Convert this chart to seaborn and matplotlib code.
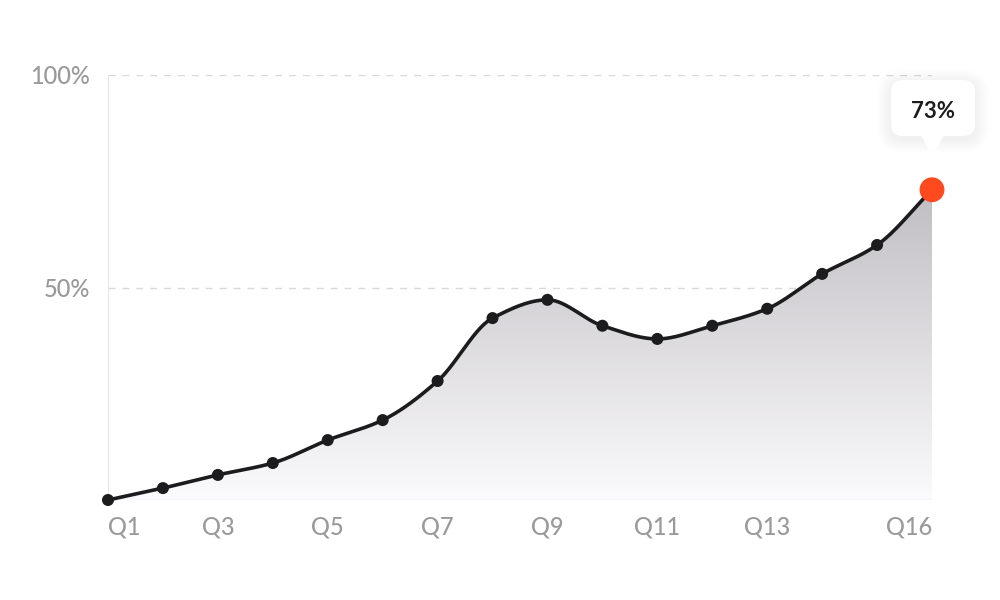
import numpy as np
import pandas as pd
import matplotlib
matplotlib.use("Agg")
import matplotlib.pyplot as plt
import seaborn as sns
from matplotlib.patches import FancyBboxPatch, Polygon
from matplotlib.colors import LinearSegmentedColormap

quarters = [f"Q{i}" for i in range(1, 17)]
values = [0, 2.8, 5.9, 8.7, 14.1, 18.8, 28.0, 42.8, 47.1, 41.0, 37.9, 41.0, 45.0, 53.2, 60.0, 73.0]
tick_quarters = ["Q1", "Q3", "Q5", "Q7", "Q9", "Q11", "Q13", "Q16"]
y_ticks = [50, 100]
y_tick_labels = ["50%", "100%"]
highlight_label = "73%"

sns.set_theme(style="white")
plt.rcParams['font.family'] = ['Lato', 'DejaVu Sans']

x = np.arange(len(values), dtype=float)
y = np.array(values, dtype=float)


def pchip(xk, yk, xs):
    h = np.diff(xk)
    d = np.diff(yk) / h
    m = np.zeros_like(yk)
    for i in range(1, len(yk) - 1):
        if d[i - 1] * d[i] <= 0:
            m[i] = 0
        else:
            w1 = 2 * h[i] + h[i - 1]
            w2 = h[i] + 2 * h[i - 1]
            m[i] = (w1 + w2) / (w1 / d[i - 1] + w2 / d[i])
    m[0] = d[0]
    m[-1] = d[-1]
    out = np.empty_like(xs)
    for j, xv in enumerate(xs):
        i = min(np.searchsorted(xk, xv, side="right") - 1, len(xk) - 2)
        i = max(i, 0)
        t = (xv - xk[i]) / h[i]
        h00 = 2 * t**3 - 3 * t**2 + 1
        h10 = t**3 - 2 * t**2 + t
        h01 = -2 * t**3 + 3 * t**2
        h11 = t**3 - t**2
        out[j] = h00 * yk[i] + h10 * h[i] * m[i] + h01 * yk[i + 1] + h11 * h[i] * m[i + 1]
    return out


xs = np.linspace(0, len(values) - 1, 600)
ys = pchip(x, y, xs)
smooth = pd.DataFrame({"x": xs, "y": ys})
points = pd.DataFrame({"x": x, "y": y})

fig = plt.figure(figsize=(10, 6), dpi=100)
fig.patch.set_facecolor("white")
ax = fig.add_axes([0.108, 1 - 500 / 600, 0.824, 425 / 600])
ax.set_xlim(0, len(values) - 1)
ax.set_ylim(0, 100)

# gradient fill under curve
cmap = LinearSegmentedColormap.from_list("g", ["#fbfafc", "#bcbabe"])
grad = np.linspace(0, 1, 256).reshape(-1, 1)
im = ax.imshow(grad, extent=[0, len(values) - 1, 0, 78], origin="lower",
               cmap=cmap, aspect="auto", zorder=1)
poly_xy = np.column_stack([np.r_[xs, xs[-1], xs[0]], np.r_[ys, 0, 0]])
clip = Polygon(poly_xy, closed=True, facecolor="none", edgecolor="none")
ax.add_patch(clip)
im.set_clip_path(clip)

# grid lines
for v in y_ticks:
    ax.axhline(v, color="#d9d9dc", lw=1, ls=(0, (5, 5)), zorder=0)
ax.axhline(0, color="#e2e2e4", lw=1, zorder=2)
ax.axvline(0, color="#e2e2e4", lw=1.2, zorder=2)

sns.lineplot(data=smooth, x="x", y="y", ax=ax, color="#1c1b1d", lw=2.6,
             zorder=4, clip_on=False, legend=False)
sns.scatterplot(data=points.iloc[:-1], x="x", y="y", ax=ax, color="#1c1b1d",
                s=75, edgecolor="none", zorder=5, clip_on=False, legend=False)
sns.scatterplot(data=points.iloc[-1:], x="x", y="y", ax=ax, color="#ff4a1f",
                s=320, edgecolor="none", zorder=6, clip_on=False, legend=False)

for s in ax.spines.values():
    s.set_visible(False)

tick_pos = [quarters.index(q) for q in tick_quarters]
ax.set_xticks(tick_pos)
ax.set_xticklabels(tick_quarters)
ax.set_yticks(y_ticks)
ax.set_yticklabels(y_tick_labels)
ax.tick_params(axis="x", length=0, pad=11, labelsize=17, labelcolor="#9a999c")
ax.tick_params(axis="y", length=0, pad=13, labelsize=17, labelcolor="#9a999c")
for lab in ax.get_xticklabels() + ax.get_yticklabels():
    lab.set_fontweight("medium")
xl = ax.get_xticklabels()
xl[0].set_ha("left")
xl[-1].set_ha("right")
ax.set_xlabel("")
ax.set_ylabel("")

# tooltip (in pixel-based figure coords)
W, H = 1000, 600
bx0, bx1, by0, by1 = 891, 975, 80, 136
for k in range(14, 0, -1):
    sp = FancyBboxPatch(((bx0 - k) / W, 1 - (by1 + k + 3) / H), (bx1 - bx0 + 2 * k) / W,
                        (by1 - by0 + 2 * k) / H,
                        boxstyle=f"round,pad=0,rounding_size={(12 + k) / W}",
                        transform=fig.transFigure, facecolor="#000000",
                        alpha=0.0035, edgecolor="none", zorder=8,
                        mutation_aspect=W / H)
    fig.add_artist(sp)
box = FancyBboxPatch((bx0 / W, 1 - by1 / H), (bx1 - bx0) / W, (by1 - by0) / H,
                     boxstyle=f"round,pad=0,rounding_size={12 / W}",
                     transform=fig.transFigure, facecolor="white",
                     edgecolor="none", zorder=9, mutation_aspect=W / H)
fig.add_artist(box)
tri = Polygon([(921 / W, 1 - (by1 - 1) / H), (944 / W, 1 - (by1 - 1) / H), (932.5 / W, 1 - 157 / H)],
              closed=True, transform=fig.transFigure, facecolor="white",
              edgecolor="none", zorder=9)
fig.add_artist(tri)
fig.text((bx0 + bx1) / 2 / W, 1 - 112 / H, highlight_label, ha="center", va="center",
         fontsize=16, fontweight="bold", color="#1c1b1d", zorder=10)

fig.savefig("out.png", dpi=100, facecolor="white")
